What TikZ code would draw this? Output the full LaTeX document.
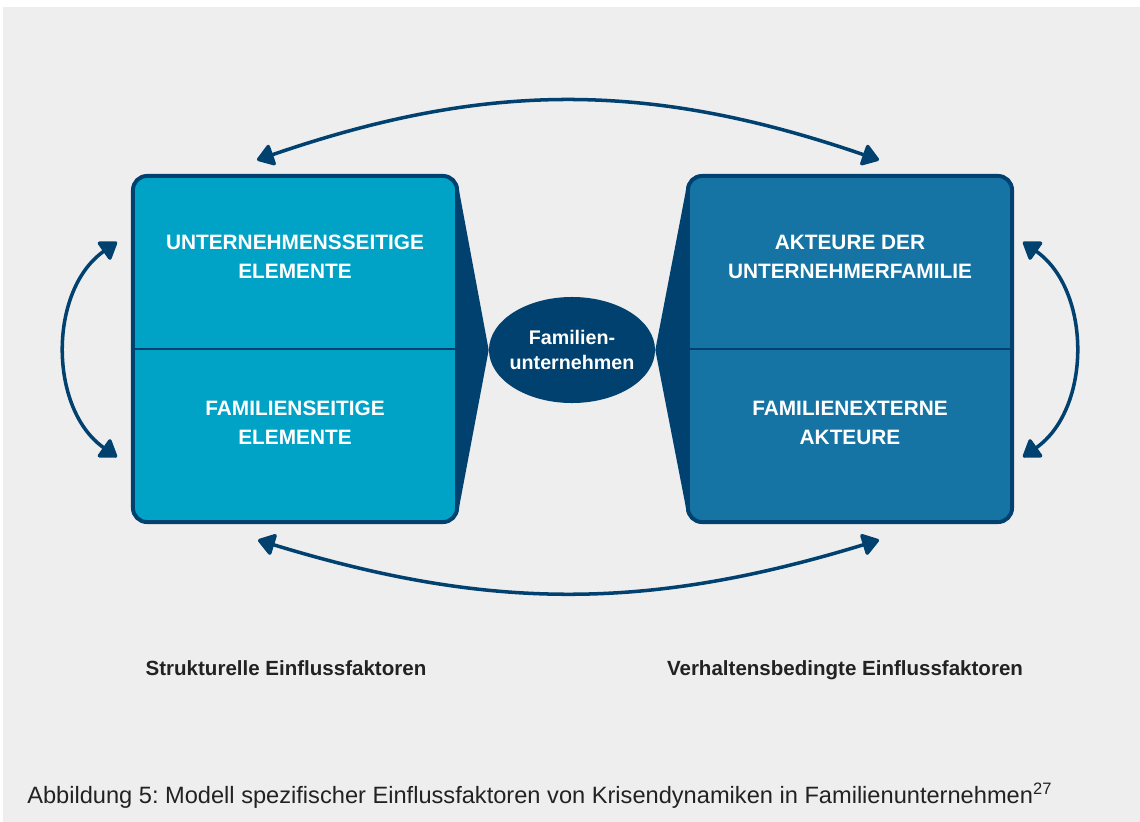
\documentclass[tikz,border=0pt]{standalone}
\usepackage{fontspec}
\setmainfont{Liberation Sans}
\usetikzlibrary{shapes.geometric, arrows.meta, calc}

\definecolor{navy}{HTML}{00416F}
\definecolor{cyanbox}{HTML}{00A3C6}
\definecolor{bluebox}{HTML}{1574A3}
\definecolor{bggray}{HTML}{EEEEEE}
\definecolor{textgray}{HTML}{222222}

\begin{document}
\frenchspacing
\begin{tikzpicture}[x=0.025cm, y=-0.025cm,
    factorbox/.style={draw=navy, line width=2.8pt, rounded corners=0.35cm,
        minimum width=8.1cm, minimum height=8.65cm},
    boxtext/.style={text=white, align=center,
        font=\bfseries\fontsize{14.8}{20.5}\selectfont},
    link/.style={draw=navy, line width=2.5pt, <->,
        >={Triangle[round, length=13pt, width=17pt]}},
    factorlabel/.style={anchor=base, text=textgray,
        font=\bfseries\fontsize{14.6}{17}\selectfont}]

    % background
    \useasboundingbox (0,0) rectangle (1140,822);
    \fill[white] (0,0) rectangle (1140,822);
    \fill[bggray] (3,7) rectangle (1140,822);

    % the two groups of factors
    \node[factorbox, fill=cyanbox] (struktur) at (295,349) {};
    \node[factorbox, fill=bluebox] (verhalten) at (850,349) {};
    \draw[navy, line width=2pt] (struktur.west) -- (struktur.east);
    \draw[navy, line width=2pt] (verhalten.west) -- (verhalten.east);

    \node[boxtext] (unternelem) at (295,257) {UNTERNEHMENSSEITIGE\\ELEMENTE};
    \node[boxtext] (famelem) at (295,423) {FAMILIENSEITIGE\\ELEMENTE};
    \node[boxtext] (akteure) at (850,257) {AKTEURE DER\\UNTERNEHMERFAMILIE};
    \node[boxtext] (extern) at (850,423) {FAMILIENEXTERNE\\AKTEURE};

    % family business in the middle
    \node[ellipse, fill=navy, minimum width=4.15cm, minimum height=2.65cm,
        inner xsep=-6pt, inner ysep=0pt,
        text=white, align=center, font=\bfseries\fontsize{14}{17.5}\selectfont]
        (kern) at (572,350) {Familien-\\unternehmen};

    \fill[navy] ($(struktur.north east)+(-1,11)$) -- (kern.west)
        -- ($(struktur.south east)+(-1,-11)$) -- cycle;
    \fill[navy] ($(verhalten.north west)+(1,11)$) -- (kern.east)
        -- ($(verhalten.south west)+(1,-11)$) -- cycle;

    % interactions
    \coordinate (topl) at (257,160);
    \coordinate (topr) at (879,160);
    \coordinate (botl) at (258,540);
    \coordinate (botr) at (879,540);
    \coordinate (lefta) at (117,242);
    \coordinate (leftb) at (117,457);
    \coordinate (righta) at (1023,242);
    \coordinate (rightb) at (1023,457);

    \draw[link] (topl) to[bend left=19] (topr);
    \draw[link] (botl) to[bend right=17] (botr);
    \draw[link] (lefta) to[bend right=55] (leftb);
    \draw[link] (righta) to[bend left=55] (rightb);

    \node[factorlabel] (strukturlabel) at (286,675) {Strukturelle Einflussfaktoren};
    \node[factorlabel] (verhaltenlabel) at (845,675) {Verhaltensbedingte Einflussfaktoren};

    \node[anchor=base west, text=textgray, inner sep=0pt,
        font=\fontsize{16.8}{20}\selectfont] (caption) at (27,803)
        {Abbildung 5: Modell spezifischer Einflussfaktoren von Krisendynamiken in Familienunternehmen\textsuperscript{27}};
\end{tikzpicture}
\end{document}
